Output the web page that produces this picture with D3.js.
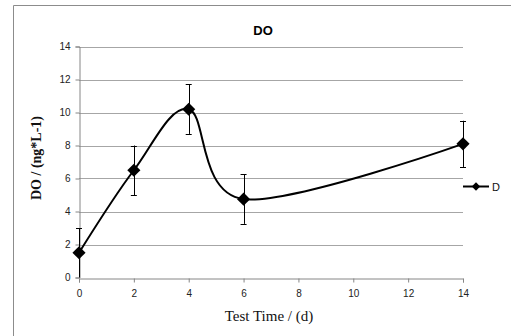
<!DOCTYPE html>
<html>
<head>
<meta charset="utf-8">
<script src="https://cdn.jsdelivr.net/npm/d3@7"></script>
<style>
  body { margin: 0; background: #fff; }
  svg { display: block; }
</style>
</head>
<body>
<svg id="chart" width="511" height="336"></svg>
<script>
const days = [0, 2, 4, 6, 14];
const doValues = [1.5, 6.5, 10.2, 4.75, 8.1];
const doErrors = [1.5, 1.5, 1.5, 1.5, 1.4];
const xTicks = [0, 2, 4, 6, 8, 10, 12, 14];
const yTicks = [0, 2, 4, 6, 8, 10, 12, 14];
const seriesName = "D";

const svg = d3.select("#chart");

// outer chart frame (runs off the right and bottom edges)
svg.append("path")
  .attr("d", "M13.5,340 V5.5 H520")
  .attr("fill", "none")
  .attr("stroke", "#8c8c8c")
  .attr("stroke-width", 1);

const x = d3.scaleLinear().domain([0, 14]).range([79, 463]);
const y = d3.scaleLinear().domain([0, 14]).range([277.5, 46.5]);

const g = svg.append("g");

// gridlines
g.selectAll(".grid")
  .data(yTicks.filter((t) => t > 0))
  .enter()
  .append("line")
  .attr("x1", x(0))
  .attr("x2", x(14))
  .attr("y1", (d) => Math.round(y(d)) + 0.5)
  .attr("y2", (d) => Math.round(y(d)) + 0.5)
  .attr("stroke", "#a6a6a6")
  .attr("stroke-width", 1);

const tickFont = "Arial, 'Liberation Sans', sans-serif";
const labelFont = "'Times New Roman', 'Liberation Serif', serif";

const yAxis = g.append("g")
  .attr("transform", `translate(${x(0) + 0.5},0)`)
  .call(d3.axisLeft(y).tickValues(yTicks).tickSize(4).tickPadding(5).tickFormat(d3.format("d")));

const xAxis = g.append("g")
  .attr("transform", `translate(0,${Math.round(y(0)) + 0.5})`)
  .call(d3.axisBottom(x).tickValues(xTicks).tickSize(4).tickPadding(7).tickFormat(d3.format("d")));

[xAxis, yAxis].forEach((ax) => {
  ax.select(".domain").attr("stroke", "#868686");
  ax.selectAll(".tick line").attr("stroke", "#868686");
  ax.selectAll(".tick text")
    .attr("fill", "#222")
    .style("font-family", tickFont)
    .style("font-size", "10px");
});

// error bars
const pts = days.map((d, i) => ({ x: d, y: doValues[i], e: doErrors[i] }));

const eb = g.selectAll(".err")
  .data(pts)
  .enter()
  .append("g")
  .attr("stroke", "#000")
  .attr("stroke-width", 1);

eb.append("line")
  .attr("x1", (d) => Math.round(x(d.x)) + 0.5)
  .attr("x2", (d) => Math.round(x(d.x)) + 0.5)
  .attr("y1", (d) => y(d.y + d.e))
  .attr("y2", (d) => y(Math.max(0, d.y - d.e)));
eb.append("line")
  .attr("x1", (d) => x(d.x) - 3)
  .attr("x2", (d) => x(d.x) + 3)
  .attr("y1", (d) => Math.round(y(d.y + d.e)) + 0.5)
  .attr("y2", (d) => Math.round(y(d.y + d.e)) + 0.5);
eb.filter((d) => d.y - d.e > 0.05)
  .append("line")
  .attr("x1", (d) => x(d.x) - 3)
  .attr("x2", (d) => x(d.x) + 3)
  .attr("y1", (d) => Math.round(y(d.y - d.e)) + 0.5)
  .attr("y2", (d) => Math.round(y(d.y - d.e)) + 0.5);

// smoothed line
const line = d3.line()
  .x((d) => x(d.x))
  .y((d) => y(d.y))
  .curve(d3.curveCardinal.tension(0));

g.append("path")
  .datum(pts)
  .attr("d", line)
  .attr("fill", "none")
  .attr("stroke", "#000")
  .attr("stroke-width", 2);

const diamond = d3.symbol().type(d3.symbolDiamond2).size(110);

g.selectAll(".pt")
  .data(pts)
  .enter()
  .append("path")
  .attr("d", diamond)
  .attr("transform", (d) => `translate(${x(d.x)},${y(d.y)})`)
  .attr("fill", "#000");

// title and axis labels
svg.append("text")
  .attr("x", 263)
  .attr("y", 35)
  .attr("text-anchor", "middle")
  .style("font-family", tickFont)
  .style("font-weight", "bold")
  .style("font-size", "13px")
  .text("DO");

svg.append("text")
  .attr("x", 269)
  .attr("y", 321)
  .attr("text-anchor", "middle")
  .style("font-family", labelFont)
  .style("font-size", "15px")
  .attr("fill", "#111")
  .text("Test Time / (d)");

svg.append("text")
  .attr("transform", "translate(41,158) rotate(-90)")
  .attr("text-anchor", "middle")
  .style("font-family", labelFont)
  .style("font-weight", "bold")
  .style("font-size", "14px")
  .attr("fill", "#111")
  .text("DO / (ng*L-1)");

// legend
const legend = svg.append("g").attr("transform", "translate(463,186)");
legend.append("line")
  .attr("x1", 0).attr("x2", 26).attr("y1", 0.5).attr("y2", 0.5)
  .attr("stroke", "#000").attr("stroke-width", 2);
legend.append("path")
  .attr("d", d3.symbol().type(d3.symbolDiamond2).size(45))
  .attr("transform", "translate(13,0.5)")
  .attr("fill", "#000");
legend.append("text")
  .attr("x", 29)
  .attr("y", 4.5)
  .style("font-family", tickFont)
  .style("font-size", "11px")
  .attr("fill", "#111")
  .text(seriesName);
</script>
</body>
</html>
